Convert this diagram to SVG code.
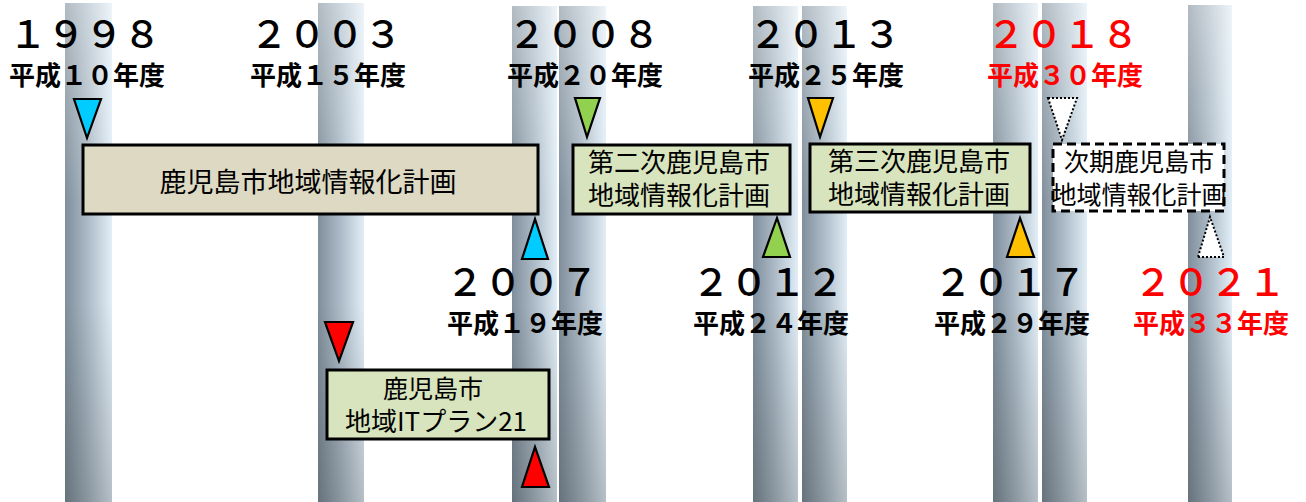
<svg xmlns="http://www.w3.org/2000/svg" width="1306" height="502" viewBox="0 0 1306 502">
<defs>
<linearGradient id="pillarH" x1="0" y1="0" x2="1" y2="0">
<stop offset="0" stop-color="#7f8e9a"/>
<stop offset="0.5" stop-color="#adbcc8"/>
<stop offset="1" stop-color="#e2eef7"/>
</linearGradient>
<linearGradient id="pillarV" x1="0" y1="0" x2="0" y2="1">
<stop offset="0" stop-color="#ffffff" stop-opacity="0.4"/>
<stop offset="0.4" stop-color="#ffffff" stop-opacity="0"/>
<stop offset="0.6" stop-color="#000000" stop-opacity="0"/>
<stop offset="1" stop-color="#000000" stop-opacity="0.2"/>
</linearGradient>
</defs>
<style>
.ph{fill:url(#pillarH)}
.pv{fill:url(#pillarV)}
.yr{font-family:"Noto Sans CJK JP","Noto Sans",sans-serif;font-size:38px;font-weight:500;text-anchor:middle;fill:#000}
.era{font-family:"Noto Sans CJK JP","Noto Sans",sans-serif;font-size:26px;font-weight:bold;text-anchor:middle;fill:#000}
.red{fill:#ff0000}
.box{stroke:#000;stroke-width:3}
.tan{fill:#ddd9c3}
.grn{fill:#d7e4bd}
.dash{fill:#fff;stroke-dasharray:9 5}
.lbl{font-family:"Noto Sans CJK JP","Noto Sans",sans-serif;font-size:26px;text-anchor:middle;fill:#000}
.tri{stroke:#000;stroke-width:2.2;stroke-linejoin:miter}
.dot{fill:#fff;stroke:#000;stroke-width:2;stroke-dasharray:2 2}
</style>

<g id="pillars">
<rect class="ph" x="65" y="3" width="47" height="499"/><rect class="pv" x="65" y="3" width="47" height="499"/>
<rect class="ph" x="318" y="3" width="46" height="499"/><rect class="pv" x="318" y="3" width="46" height="499"/>
<rect class="ph" x="512" y="6" width="45" height="496"/><rect class="pv" x="512" y="6" width="45" height="496"/>
<rect class="ph" x="559" y="6" width="47" height="496"/><rect class="pv" x="559" y="6" width="47" height="496"/>
<rect class="ph" x="753" y="6" width="45" height="496"/><rect class="pv" x="753" y="6" width="45" height="496"/>
<rect class="ph" x="802" y="6" width="45" height="496"/><rect class="pv" x="802" y="6" width="45" height="496"/>
<rect class="ph" x="993" y="3" width="45" height="499"/><rect class="pv" x="993" y="3" width="45" height="499"/>
<rect class="ph" x="1042" y="3" width="45" height="499"/><rect class="pv" x="1042" y="3" width="45" height="499"/>
<rect class="ph" x="1188" y="5" width="44" height="497"/><rect class="pv" x="1188" y="5" width="44" height="497"/>
</g>

<g id="labels-top">
<text class="yr" x="85" y="48">１９９８</text>
<text class="era" x="87" y="85">平成１０年度</text>
<text class="yr" x="326" y="48">２００３</text>
<text class="era" x="328" y="85">平成１５年度</text>
<text class="yr" x="584" y="48">２００８</text>
<text class="era" x="585" y="85">平成２０年度</text>
<text class="yr" x="825" y="48">２０１３</text>
<text class="era" x="826" y="85">平成２５年度</text>
<text class="yr red" x="1063" y="48">２０１８</text>
<text class="era red" x="1065" y="85">平成３０年度</text>
</g>

<g id="labels-bottom">
<text class="yr" x="522" y="296">２００７</text>
<text class="era" x="525" y="333">平成１９年度</text>
<text class="yr" x="768" y="296">２０１２</text>
<text class="era" x="771" y="333">平成２４年度</text>
<text class="yr" x="1010" y="296">２０１７</text>
<text class="era" x="1012" y="333">平成２９年度</text>
<text class="yr red" x="1210" y="296">２０２１</text>
<text class="era red" x="1211" y="333">平成３３年度</text>
</g>

<g id="connectors">
<polygon class="tri" fill="#00ccff" points="74,99 101,99 87,138"/>
<polygon class="tri" fill="#00ccff" points="522,259 548,259 535,219"/>
<polygon class="tri" fill="#92d050" points="575,98 600,98 587,137"/>
<polygon class="tri" fill="#92d050" points="763,257 790,257 777,218"/>
<polygon class="tri" fill="#ffc000" points="808,98 833,98 820,137"/>
<polygon class="tri" fill="#ffc000" points="1007,257 1034,257 1020,218"/>
<polygon class="dot" points="1048,98 1077,98 1062,140"/>
<polygon class="dot" points="1198,257 1224,257 1210,217"/>
<polygon class="tri" fill="#ff0000" points="325,322 353,322 339,361"/>
<polygon class="tri" fill="#ff0000" points="522,487 549,487 535,447"/>
</g>

<g id="plan1">
<rect class="box tan" x="83" y="145" width="455" height="69"/>
<text class="lbl" x="308" y="192" style="font-size:27px">鹿児島市地域情報化計画</text>
</g>

<g id="plan-it21">
<rect class="box grn" x="327" y="370" width="222" height="69"/>
<text class="lbl" x="433" y="398" style="font-size:25px">鹿児島市</text>
<text class="lbl" x="436" y="431" style="font-size:26px">地域ITプラン21</text>
</g>

<g id="plan2">
<rect class="box grn" x="573" y="145" width="217" height="69"/>
<text class="lbl" x="679" y="172">第二次鹿児島市</text>
<text class="lbl" x="679" y="205">地域情報化計画</text>
</g>

<g id="plan3">
<rect class="box grn" x="810" y="144" width="220" height="68"/>
<text class="lbl" x="919" y="171">第三次鹿児島市</text>
<text class="lbl" x="919" y="204">地域情報化計画</text>
</g>

<g id="plan-next">
<rect class="box dash" x="1053" y="144" width="171" height="67"/>
<text class="lbl" x="1139" y="171" style="font-size:25px">次期鹿児島市</text>
<text class="lbl" x="1139" y="204" style="font-size:25px">地域情報化計画</text>
</g>
</svg>
